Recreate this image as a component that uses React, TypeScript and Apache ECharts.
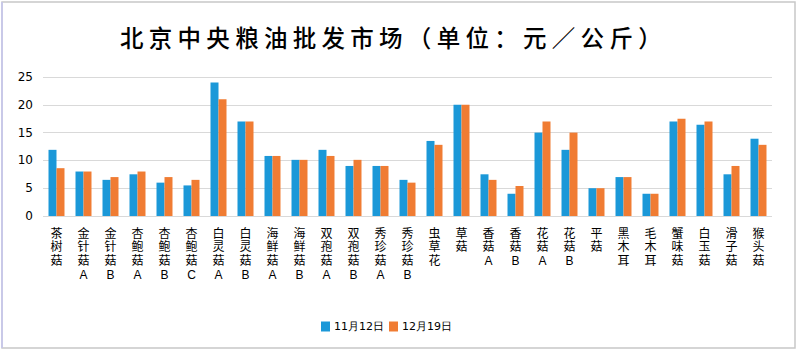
import React, { useEffect, useRef } from "react";
import * as echarts from "echarts";

const categories = ["茶树菇","金针菇A","金针菇B","杏鲍菇A","杏鲍菇B","杏鲍菇C","白灵菇A","白灵菇B","海鲜菇A","海鲜菇B","双孢菇A","双孢菇B","秀珍菇A","秀珍菇B","虫草花","草菇","香菇A","香菇B","花菇A","花菇B","平菇","黑木耳","毛木耳","蟹味菇","白玉菇","滑子菇","猴头菇"];
const nov12 = [11.9, 8, 6.5, 7.5, 6, 5.5, 24, 17, 10.8, 10.1, 11.9, 9, 9, 6.5, 13.5, 20, 7.5, 4, 15, 11.9, 5, 7, 4, 17, 16.4, 7.5, 13.9];
const dec19 = [8.6, 8, 7, 8, 7, 6.5, 21, 17, 10.8, 10.1, 10.8, 10.1, 9, 6, 12.8, 20, 6.5, 5.4, 17, 15, 5, 7, 4, 17.5, 17, 9, 12.8];
const seriesNames = ["11月12日", "12月19日"];
const titleText = "北京中央粮油批发市场（单位：元／公斤）";
const yTicks = [0, 5, 10, 15, 20, 25];

export default function App() {
  const ref = useRef<HTMLDivElement>(null);
  useEffect(() => {
    if (!ref.current) return;
    const chart = echarts.init(ref.current, null, { renderer: "svg" });
    chart.setOption({
      animation: false,
      backgroundColor: "#fff",
      title: {
        text: titleText.split("").join(" "),
        left: 120,
        top: 25,
        padding: 0,
        textStyle: {
          fontFamily: "Noto Sans CJK SC",
          fontSize: 23.5,
          fontWeight: 500,
          color: "#000",
        },
      },
      legend: {
        left: 321,
        top: 321,
        padding: 0,
        itemWidth: 9,
        itemHeight: 10,
        itemGap: 5,
        icon: "rect",
        textStyle: { fontSize: 11, color: "#000", fontFamily: "DejaVu Sans", padding: [0, 0, 0, -1] },
        data: seriesNames,
      },
      grid: { left: 43, right: 28, top: 77, bottom: 137, containLabel: false },
      xAxis: {
        type: "category",
        data: categories,
        axisLine: { show: false },
        axisTick: { show: false },
        axisLabel: {
          interval: 0,
          margin: 11,
          fontSize: 12,
          lineHeight: 13.6,
          color: "#000",
          fontFamily: "'Liberation Sans', 'Noto Sans CJK SC', sans-serif",
          formatter: (v: string) => v.split("").join("\n"),
        },
      },
      yAxis: {
        type: "value",
        min: yTicks[0],
        max: yTicks[yTicks.length - 1],
        interval: 5,
        axisLine: { show: false },
        axisTick: { show: false },
        splitLine: { lineStyle: { color: "#d9d9d9", width: 1 } },
        axisLabel: { fontSize: 12, color: "#000", fontFamily: "DejaVu Sans", margin: 10 },
      },
      series: [
        { name: seriesNames[0], type: "bar", data: nov12, barWidth: 8, barGap: "0%", itemStyle: { color: "#1b98d8" } },
        { name: seriesNames[1], type: "bar", data: dec19, barWidth: 8, barGap: "0%", itemStyle: { color: "#f07c33" } },
      ],
      graphic: [
        { type: "rect", shape: { x: 2, y: 2, width: 793, height: 346 }, style: { fill: "none", stroke: "#c8c8c8", lineWidth: 1.5 }, silent: true },
        { type: "line", shape: { x1: 2, y1: 2, x2: 2, y2: 348 }, style: { stroke: "#c4c4ee", lineWidth: 1.5 }, silent: true },
      ],
    });
    return () => chart.dispose();
  }, []);
  return <div ref={ref} style={{ position: "fixed", left: 0, top: 0, width: 800, height: 353 }} />;
}
